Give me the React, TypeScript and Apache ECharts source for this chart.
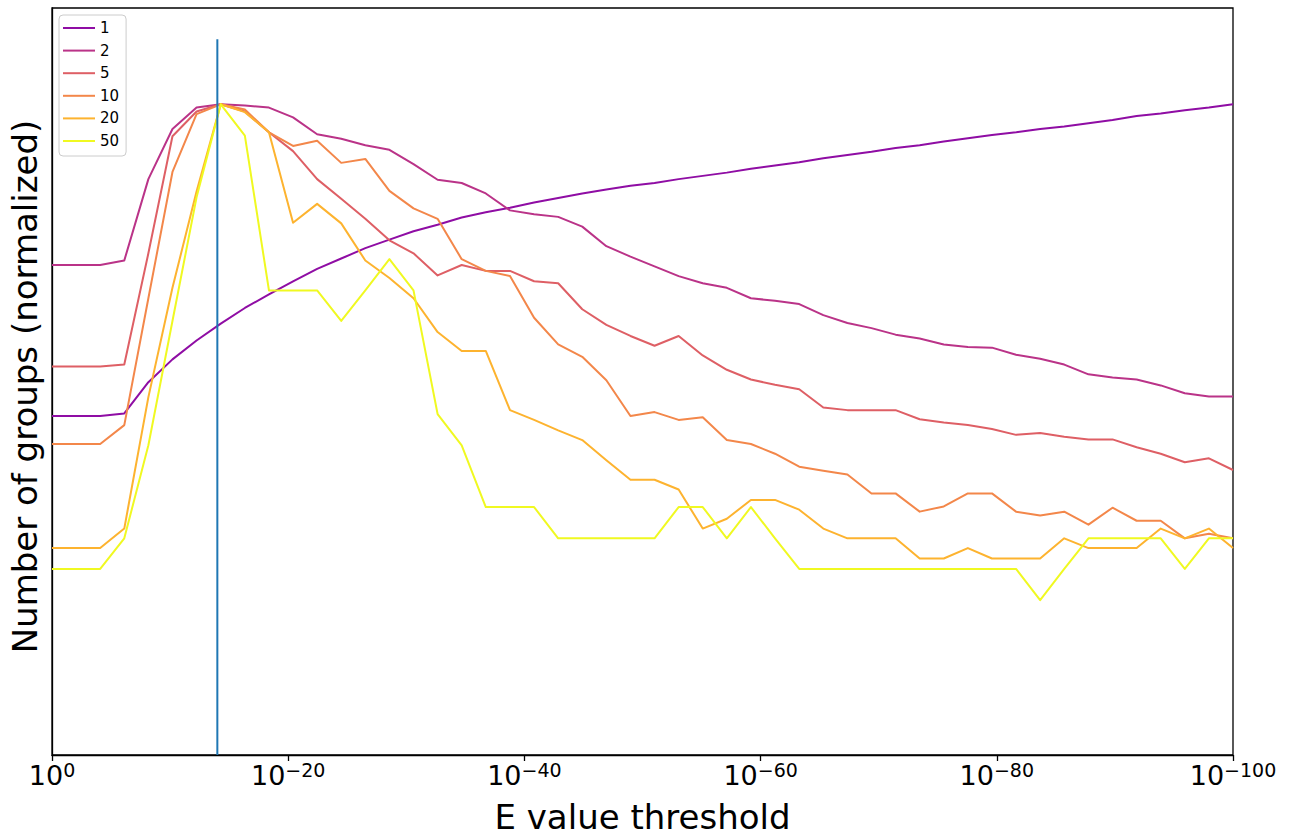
import React, { useEffect, useRef } from "react";
import * as echarts from "echarts";

// x grid: exponents of the E value threshold (10^-x), 50 points from 10^0 to 10^-100
const exponents = [
  0, 2.04, 4.08, 6.12, 8.16, 10.2, 12.24, 14.29, 16.33, 18.37,
  20.41, 22.45, 24.49, 26.53, 28.57, 30.61, 32.65, 34.69, 36.73, 38.78,
  40.82, 42.86, 44.9, 46.94, 48.98, 51.02, 53.06, 55.1, 57.14, 59.18,
  61.22, 63.27, 65.31, 67.35, 69.39, 71.43, 73.47, 75.51, 77.55, 79.59,
  81.63, 83.67, 85.71, 87.76, 89.8, 91.84, 93.88, 95.92, 97.96, 100,
];

const tickExponents = [0, 20, 40, 60, 80, 100];

const seriesNames = ["1", "2", "5", "10", "20", "50"];

const s1 = [
  0.521, 0.521, 0.521, 0.525, 0.573, 0.608, 0.637, 0.663, 0.687, 0.708,
  0.728, 0.747, 0.763, 0.779, 0.792, 0.805, 0.815, 0.826, 0.834, 0.841,
  0.849, 0.856, 0.863, 0.869, 0.875, 0.879, 0.885, 0.89, 0.895, 0.901,
  0.906, 0.911, 0.917, 0.922, 0.927, 0.933, 0.937, 0.943, 0.948, 0.953,
  0.957, 0.962, 0.966, 0.971, 0.976, 0.982, 0.986, 0.991, 0.995, 1.0,
];
const s2 = [
  0.753, 0.753, 0.753, 0.76, 0.885, 0.962, 0.995, 1.0, 0.998, 0.995,
  0.98, 0.954, 0.947, 0.937, 0.93, 0.908, 0.884, 0.879, 0.863, 0.837,
  0.831, 0.827, 0.812, 0.782, 0.766, 0.751, 0.736, 0.725, 0.718, 0.702,
  0.698, 0.693, 0.676, 0.664, 0.656, 0.646, 0.64, 0.631, 0.627, 0.626,
  0.615, 0.609, 0.6, 0.585, 0.58, 0.577, 0.568, 0.556, 0.551, 0.551,
];
const s5 = [
  0.597, 0.597, 0.597, 0.6, 0.771, 0.951, 0.989, 1.0, 0.989, 0.957,
  0.928, 0.885, 0.855, 0.824, 0.791, 0.771, 0.737, 0.753, 0.744, 0.744,
  0.728, 0.725, 0.685, 0.661, 0.644, 0.629, 0.644, 0.614, 0.592, 0.577,
  0.569, 0.562, 0.534, 0.53, 0.53, 0.53, 0.516, 0.511, 0.507, 0.501,
  0.492, 0.495, 0.489, 0.485, 0.485, 0.473, 0.463, 0.45, 0.456, 0.438,
];
const s10 = [
  0.478, 0.478, 0.478, 0.507, 0.702, 0.896, 0.985, 1.0, 0.992, 0.957,
  0.936, 0.944, 0.91, 0.916, 0.867, 0.84, 0.824, 0.762, 0.744, 0.736,
  0.672, 0.631, 0.612, 0.576, 0.521, 0.527, 0.515, 0.519, 0.484, 0.478,
  0.463, 0.443, 0.437, 0.431, 0.402, 0.402, 0.374, 0.382, 0.402, 0.402,
  0.374, 0.368, 0.374, 0.354, 0.38, 0.36, 0.36, 0.333, 0.34, 0.333,
];
const s20 = [
  0.318, 0.318, 0.318, 0.348, 0.55, 0.718, 0.866, 1.0, 0.988, 0.957,
  0.818, 0.847, 0.817, 0.76, 0.733, 0.702, 0.65, 0.621, 0.621, 0.53,
  0.515, 0.499, 0.484, 0.453, 0.423, 0.423, 0.408, 0.348, 0.363, 0.392,
  0.392, 0.377, 0.348, 0.333, 0.333, 0.333, 0.302, 0.302, 0.318, 0.302,
  0.302, 0.302, 0.333, 0.318, 0.318, 0.318, 0.348, 0.333, 0.348, 0.318,
];
const s50 = [
  0.286, 0.286, 0.286, 0.333, 0.476, 0.667, 0.857, 1.0, 0.952, 0.714,
  0.714, 0.714, 0.667, 0.714, 0.762, 0.714, 0.524, 0.476, 0.381, 0.381,
  0.381, 0.333, 0.333, 0.333, 0.333, 0.333, 0.381, 0.381, 0.333, 0.381,
  0.333, 0.286, 0.286, 0.286, 0.286, 0.286, 0.286, 0.286, 0.286, 0.286,
  0.286, 0.238, 0.286, 0.333, 0.333, 0.333, 0.333, 0.286, 0.333, 0.333,
];

const seriesValues = [s1, s2, s5, s10, s20, s50];
const seriesColors = ["#8f0da4", "#ba3388", "#de5f65", "#f3874a", "#fdb32f", "#f0f921"];

// vertical marker at E = 1e-14
const markerExponent = 14;
const markerRange = [0, 1.1];

const FONT = "DejaVu Sans";

export default function App() {
  const ref = useRef<HTMLDivElement>(null);

  useEffect(() => {
    if (!ref.current) return;
    const chart = echarts.init(ref.current, undefined, { renderer: "svg" });

    const lineSeries = seriesNames.map((name, i) => ({
      name,
      type: "line",
      data: exponents.map((e, j) => [e, seriesValues[i][j]]),
      showSymbol: false,
      symbol: "none",
      lineStyle: { color: seriesColors[i], width: 2, join: "round" },
      itemStyle: { color: seriesColors[i] },
      z: 2 + i,
    }));

    const option = {
      animation: false,
      backgroundColor: "#ffffff",
      textStyle: { fontFamily: FONT },
      grid: {
        left: 52,
        right: 57,
        top: 8,
        bottom: 79,
        show: true,
        borderColor: "#000",
        borderWidth: 1.3,
        backgroundColor: "transparent",
      },
      legend: {
        data: seriesNames,
        orient: "vertical",
        left: 59,
        top: 15,
        icon: "rect",
        itemWidth: 32,
        itemHeight: 2,
        itemGap: 7.6,
        itemTextGap: 11,
        padding: [5.5, 7, 7.5, 4],
        backgroundColor: "rgba(255,255,255,0.8)",
        borderColor: "#cccccc",
        borderWidth: 1,
        borderRadius: 4,
        textStyle: { fontFamily: FONT, fontSize: 15, lineHeight: 15, color: "#000" },
      },
      xAxis: {
        type: "value",
        min: 0,
        max: 100,
        interval: 20,
        axisLine: { show: true, onZero: false, lineStyle: { color: "#000", width: 1.3 } },
        axisTick: { show: true, length: 6, lineStyle: { color: "#000", width: 1.3 } },
        splitLine: { show: false },
        axisLabel: {
          margin: 5,
          formatter: (v: number) =>
            tickExponents.includes(v) ? (v === 0 ? "{b|10}{s|0}" : `{b|10}{s|\u2212${v}}`) : "",
          rich: {
            b: { fontFamily: FONT, fontSize: 27, lineHeight: 30, color: "#000" },
            s: { fontFamily: FONT, fontSize: 19, lineHeight: 20, color: "#000", verticalAlign: "top" },
          },
        },
        name: "E value threshold",
        nameLocation: "middle",
        nameGap: 45,
        nameTextStyle: { fontFamily: FONT, fontSize: 34, color: "#000" },
      },
      yAxis: {
        type: "value",
        min: 0,
        max: 1.148,
        axisLine: { show: true, lineStyle: { color: "#000", width: 1.3 } },
        axisTick: { show: false },
        axisLabel: { show: false },
        splitLine: { show: false },
        name: "Number of groups (normalized)",
        nameLocation: "middle",
        nameRotate: 90,
        nameGap: 10,
        nameTextStyle: { fontFamily: FONT, fontSize: 34, color: "#000", padding: [0, 10, 0, 0] },
      },
      series: [
        ...lineSeries,
        {
          name: "marker",
          type: "line",
          data: markerRange.map((y) => [markerExponent, y]),
          showSymbol: false,
          symbol: "none",
          lineStyle: { color: "#1f77b4", width: 2 },
          z: 20,
        },
      ],
    };

    chart.setOption(option as any);
    return () => chart.dispose();
  }, []);

  return (
    <div
      ref={ref}
      style={{ position: "fixed", left: 0, top: 0, width: "1290px", height: "839px", background: "#fff" }}
    />
  );
}
